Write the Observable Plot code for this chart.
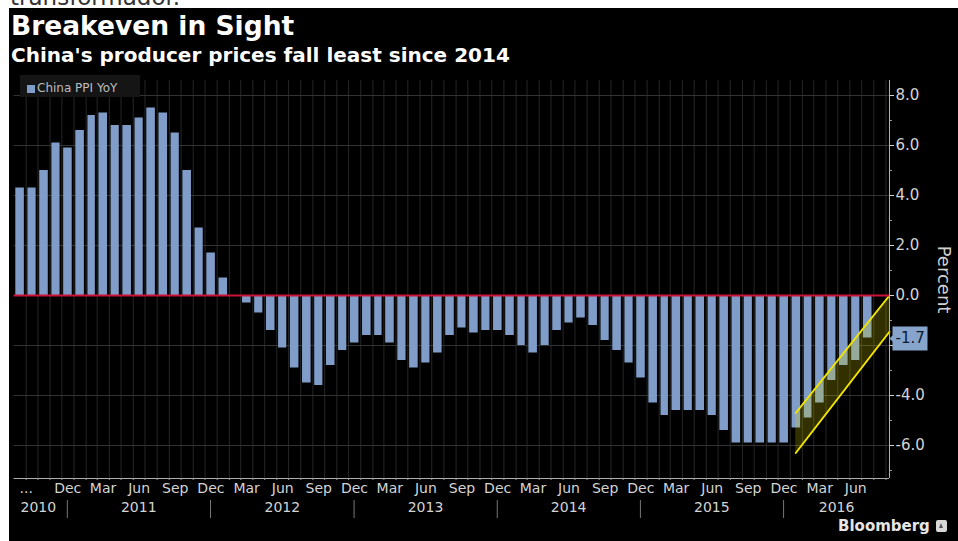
<!DOCTYPE html>
<html>
<head>
<meta charset="utf-8">
<script src="https://cdn.jsdelivr.net/npm/d3@7"></script>
<script src="https://cdn.jsdelivr.net/npm/@observablehq/plot@0.6"></script>
<style>
html, body { margin: 0; padding: 0; background: #fff; width: 958px; height: 541px; overflow: hidden; position: relative; font-family: "DejaVu Sans", sans-serif; }
#cut { position: absolute; left: 10px; top: -14px; font: 23px/23px "DejaVu Sans", sans-serif; color: #333; white-space: nowrap; }
#panel { position: absolute; left: 9px; top: 8px; width: 949px; height: 533px; background: #000; overflow: hidden; }
#title { position: absolute; left: 2px; top: 4px; font: bold 26.5px/27px "DejaVu Sans", sans-serif; color: #fff; white-space: nowrap; }
#subtitle { position: absolute; left: 2px; top: 37px; font: bold 20px/20px "DejaVu Sans", sans-serif; color: #fff; white-space: nowrap; }
#chart { position: absolute; left: 0; top: 62px; }
#legend { position: absolute; left: 11px; top: 67px; width: 120px; height: 22px; background: #151515; }
#legend .sw { position: absolute; left: 7px; top: 10px; width: 8px; height: 8px; background: #7f9dc8; }
#legend .tx { position: absolute; left: 17px; top: 6px; font: 12px/14px "DejaVu Sans", sans-serif; color: #bdbdbd; white-space: nowrap; }
#bbg { position: absolute; left: 829px; top: 510px; font: bold 15px/17px "DejaVu Sans", sans-serif; color: #e6e6e6; white-space: nowrap; }
#bbg .icon { display: inline-block; width: 11px; height: 12px; background: #d8d8d8; border-radius: 2px; margin-left: 6px; vertical-align: -1px; position: relative; }
#bbg .icon::after { content: ""; position: absolute; left: 3px; top: 3px; border-left: 2.5px solid transparent; border-right: 2.5px solid transparent; border-bottom: 5px solid #555; }
#chart g[aria-label="tip"] text { fill: #0d1b2e; }
</style>
</head>
<body>
<div id="cut">transformador.</div>
<div id="panel">
  <div id="title">Breakeven in Sight</div>
  <div id="subtitle">China's producer prices fall least since 2014</div>
  <div id="chart"></div>
  <div id="legend"><div class="sw"></div><div class="tx">China PPI YoY</div></div>
  <div id="bbg">Bloomberg<span class="icon"></span></div>
</div>
<script>
// ---- data ----
const months = [
  "2010-08","2010-09","2010-10","2010-11","2010-12",
  "2011-01","2011-02","2011-03","2011-04","2011-05","2011-06","2011-07","2011-08","2011-09","2011-10","2011-11","2011-12",
  "2012-01","2012-02","2012-03","2012-04","2012-05","2012-06","2012-07","2012-08","2012-09","2012-10","2012-11","2012-12",
  "2013-01","2013-02","2013-03","2013-04","2013-05","2013-06","2013-07","2013-08","2013-09","2013-10","2013-11","2013-12",
  "2014-01","2014-02","2014-03","2014-04","2014-05","2014-06","2014-07","2014-08","2014-09","2014-10","2014-11","2014-12",
  "2015-01","2015-02","2015-03","2015-04","2015-05","2015-06","2015-07","2015-08","2015-09","2015-10","2015-11","2015-12",
  "2016-01","2016-02","2016-03","2016-04","2016-05","2016-06","2016-07"
];
const ppiYoY = [
  4.3, 4.3, 5.0, 6.1, 5.9,
  6.6, 7.2, 7.3, 6.8, 6.8, 7.1, 7.5, 7.3, 6.5, 5.0, 2.7, 1.7,
  0.7, 0.0, -0.3, -0.7, -1.4, -2.1, -2.9, -3.5, -3.6, -2.8, -2.2, -1.9,
  -1.6, -1.6, -1.9, -2.6, -2.9, -2.7, -2.3, -1.6, -1.3, -1.5, -1.4, -1.4,
  -1.6, -2.0, -2.3, -2.0, -1.4, -1.1, -0.9, -1.2, -1.8, -2.2, -2.7, -3.3,
  -4.3, -4.8, -4.6, -4.6, -4.6, -4.8, -5.4, -5.9, -5.9, -5.9, -5.9, -5.9,
  -5.3, -4.9, -4.3, -3.4, -2.8, -2.6, -1.7
];
const monthTickDates = [
  "2010-09-01","2010-12-16",
  "2011-03-16","2011-06-16","2011-09-16","2011-12-16",
  "2012-03-16","2012-06-16","2012-09-16","2012-12-16",
  "2013-03-16","2013-06-16","2013-09-16","2013-12-16",
  "2014-03-16","2014-06-16","2014-09-16","2014-12-16",
  "2015-03-16","2015-06-16","2015-09-16","2015-12-16",
  "2016-03-16","2016-06-16"
];
const monthTickLabels = [
  "...","Dec",
  "Mar","Jun","Sep","Dec",
  "Mar","Jun","Sep","Dec",
  "Mar","Jun","Sep","Dec",
  "Mar","Jun","Sep","Dec",
  "Mar","Jun","Sep","Dec",
  "Mar","Jun"
];
const yearTickDates = ["2010-10-02","2011-06-15","2012-06-15","2013-06-15","2014-06-15","2015-06-15","2016-04-28"];
const yearTickLabels = ["2010","2011","2012","2013","2014","2015","2016"];
const yearSeparators = ["2010-12-15","2011-12-15","2012-12-15","2013-12-15","2014-12-15","2015-12-15"];
const yMajorTicks = [-6, -4, -2, 0, 2, 4, 6, 8];
const yMinorTicks = [-7, -5, -3, -1, 1, 3, 5, 7];
const trendDates = ["2016-01-15", "2016-09-10"];
const trendUpper = [-4.7, 0.0];
const trendLower = [-6.3, -1.45];
const xDomain = ["2010-08-01", "2016-09-10"];
const yDomain = [-7.32, 8.6];

// ---- build ----
const D = s => new Date(s.length === 7 ? s + "-01" : s);
const bars = months.map((m, i) => ({start: D(m), end: d3.utcMonth.offset(D(m), 1), value: ppiYoY[i]}));
const trend = trendDates.map((d, i) => ({date: D(d), upper: trendUpper[i], lower: trendLower[i]}));
const x0 = D(xDomain[0]), x1 = D(xDomain[1]);
const monthMap = new Map(monthTickDates.map((d, i) => [+D(d), monthTickLabels[i]]));
const yearMap = new Map(yearTickDates.map((d, i) => [+D(d), yearTickLabels[i]]));
const monthStarts = d3.utcMonth.range(d3.utcMonth.offset(x0, 1), x1);
const last = bars[bars.length - 1];
const tag = [{date: x1, value: last.value, label: last.value.toFixed(1)}];

const chart = Plot.plot({
  width: 949,
  height: 471,
  marginTop: 10,
  marginBottom: 63,
  marginLeft: 4.5,
  marginRight: 69,
  style: {background: "transparent", color: "#d0d0d0", fontFamily: "DejaVu Sans, sans-serif"},
  x: {type: "utc", domain: [x0, x1]},
  y: {domain: yDomain},
  marks: [
    Plot.gridX({ticks: monthStarts, stroke: "#262626", strokeOpacity: 1}),
    Plot.gridY({ticks: yMajorTicks.filter(d => d !== 0), stroke: "#333", strokeOpacity: 1}),
    Plot.rectY(bars, {x1: "start", x2: "end", y: "value", fill: "#7f9dc8", insetLeft: 1.8, insetRight: 1.8}),
    Plot.areaY(trend, {x: "date", y1: "lower", y2: "upper", fill: "#e6dc00", fillOpacity: 0.22}),
    Plot.lineY(trend, {x: "date", y: "upper", stroke: "#f2e600", strokeWidth: 2}),
    Plot.lineY(trend, {x: "date", y: "lower", stroke: "#f2e600", strokeWidth: 2}),
    Plot.ruleY([0], {stroke: "#cc1236", strokeWidth: 2}),
    Plot.ruleX([x1], {stroke: "#b0b0b0"}),
    Plot.ruleY([yDomain[0]], {stroke: "#b0b0b0"}),
    Plot.axisY({anchor: "right", ticks: yMajorTicks, tickFormat: d => d.toFixed(1), tickSize: 4, tickPadding: 2, fontSize: 15, label: null, color: "#d4d4d4"}),
    Plot.axisY({anchor: "right", ticks: yMinorTicks, tickSize: 2, label: null, stroke: "#999", fill: "none"}),
    Plot.axisX({anchor: "bottom", ticks: monthStarts, tickSize: 2, label: null, stroke: "#999", fill: "none"}),
    Plot.axisX({anchor: "bottom", ticks: monthTickDates.map(D), tickFormat: d => monthMap.get(+d), tickSize: 0, tickPadding: 5, fontSize: 14, label: null, color: "#d4d4d4"}),
    Plot.axisX({anchor: "bottom", ticks: yearTickDates.map(D), tickFormat: d => yearMap.get(+d), tickSize: 0, tickPadding: 24, fontSize: 14, label: null, color: "#d4d4d4"}),
    Plot.axisX({anchor: "bottom", ticks: yearSeparators.map(D), tickSize: 18, dy: 22, label: null, stroke: "#777", fill: "none"}),
    Plot.text(["Percent"], {frameAnchor: "right", dx: 54, rotate: 90, fontSize: 18, fill: "#d0d0d0", textAnchor: "middle", lineAnchor: "middle"}),
    Plot.tip(tag, {x: "date", y: "value", title: "label", anchor: "left", fill: "#87a4cc", stroke: "none", fontSize: 15, textPadding: 3, pointerSize: 6, pathFilter: "none"})
  ]
});
document.getElementById("chart").appendChild(chart);
</script>
</body>
</html>
